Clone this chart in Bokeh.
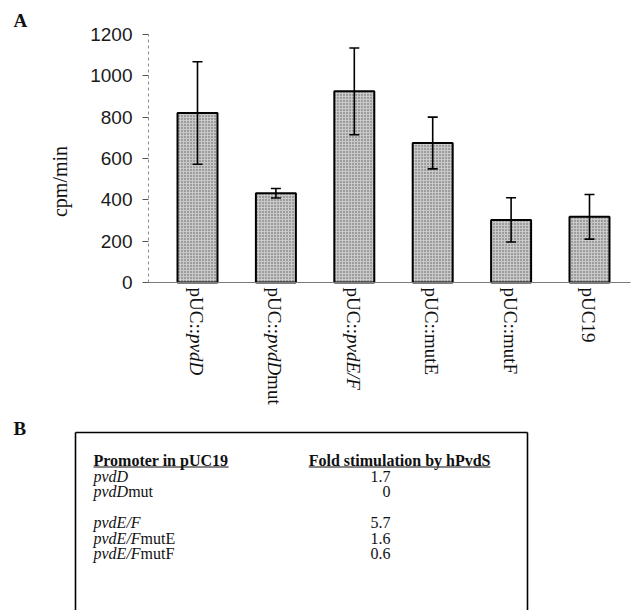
import math
from bokeh.plotting import figure
from bokeh.layouts import column
from bokeh.models import ColumnDataSource, Range1d, FixedTicker, Whisker, TeeHead, LinearAxis
from bokeh.core.properties import value
from bokeh.embed import file_html
from bokeh.resources import INLINE

# ---------------- data (panel A) ----------------
categories = ["pUC::pvdD", "pUC::pvdDmut", "pUC::pvdE/F", "pUC::mutE", "pUC::mutF", "pUC19"]
# label parts: (text, style) so that gene names can be italic
label_parts = [
    [("pUC::", "normal"), ("pvdD", "italic")],
    [("pUC::", "normal"), ("pvdD", "italic"), ("mut", "normal")],
    [("pUC::", "normal"), ("pvdE/F", "italic")],
    [("pUC::mutE", "normal")],
    [("pUC::mutF", "normal")],
    [("pUC19", "normal")],
]
cpm_values = [820, 432, 925, 675, 303, 318]
cpm_errors = [248, 23, 210, 125, 107, 108]
y_ticks = [0, 200, 400, 600, 800, 1000, 1200]
y_label = "cpm/min"

# ---------------- data (panel B) ----------------
table_header = ["Promoter in pUC19", "Fold stimulation by hPvdS"]
promoter_italic = ["pvdD", "pvdD", "pvdE/F", "pvdE/F", "pvdE/F"]
promoter_roman = ["", "mut", "", "mutE", "mutF"]
table_rows = [1, 2, 4, 5, 6]
fold_stimulation = [1.7, 0, 5.7, 1.6, 0.6]

# ---------------- font metrics (Times-compatible, per 1000 em) ----------------
W = {
    "normal": {"p": 500, "U": 722, "C": 667, ":": 278, "m": 778, "u": 500, "t": 278,
               "E": 611, "F": 556, "1": 500, "9": 500, " ": 250},
    "italic": {"p": 500, "v": 444, "d": 500, "D": 722, "E": 611, "/": 278, "F": 611},
    "bold": {"P": 611, "r": 444, "o": 500, "m": 833, "t": 333, "e": 444, " ": 250,
             "i": 278, "n": 556, "p": 556, "U": 722, "C": 722, "1": 500, "9": 500,
             "F": 611, "l": 278, "d": 556, "s": 389, "u": 556, "a": 500, "b": 556,
             "y": 500, "h": 556, "v": 500, "S": 556},
}


def tw(s, style, size):
    return sum(W[style].get(c, 500) for c in s) * size / 1000.0


SERIF = "Liberation Serif"
SANS = "Liberation Sans"
INK = "#111111"

# ---------------- layout of panel A (pixels) ----------------
PW, H1, H2 = 633, 418, 192
X0_PX, XSTEP = 197.0, 78.4          # first bar centre, px per category
Y0_PX, YPX = 282.0, 248.0 / 1200.0  # baseline, px per cpm
AXIS_PX = 148.0


def px2x(px):
    return (px - X0_PX) / XSTEP


def py2y(py):
    return (Y0_PX - py) / YPX


xs = list(range(len(categories)))
p1 = figure(width=PW, height=H1, x_range=Range1d(px2x(0), px2x(PW)),
            y_range=Range1d(py2y(H1), py2y(0)), min_border=0,
            x_axis_location=None, y_axis_location=None,
            output_backend="svg", toolbar_location=None)
p1.outline_line_color = None
p1.grid.visible = False

src = ColumnDataSource(dict(x=xs, top=cpm_values,
                            upper=[v + e for v, e in zip(cpm_values, cpm_errors)],
                            lower=[v - e for v, e in zip(cpm_values, cpm_errors)]))
p1.vbar(x="x", top="top", width=0.51, source=src, fill_color="#c9c9c9",
        hatch_pattern="dot", hatch_color="#5a5a5a", hatch_scale=3, hatch_weight=1,
        line_color="black", line_width=2)

wh = Whisker(base="x", upper="upper", lower="lower", source=src, level="overlay",
             line_color="black", line_width=1.6,
             upper_head=TeeHead(size=10, line_color="black", line_width=1.6),
             lower_head=TeeHead(size=10, line_color="black", line_width=1.6))
p1.add_layout(wh)

yax = LinearAxis(fixed_location=px2x(AXIS_PX), bounds=(y_ticks[0], y_ticks[-1]),
                 ticker=FixedTicker(ticks=y_ticks))
yax.axis_line_color = "#8a8a8a"
yax.axis_line_dash = "3 3"
yax.major_tick_in = 0
yax.major_tick_out = 6
yax.major_tick_line_color = "#555555"
yax.minor_tick_line_color = None
yax.major_label_standoff = 10
yax.major_label_text_font = SANS
yax.major_label_text_font_size = "19px"
yax.major_label_text_color = "#1a1a1a"
p1.add_layout(yax, "left")

xax = LinearAxis(fixed_location=0, bounds=(px2x(AXIS_PX), px2x(630)),
                 ticker=FixedTicker(ticks=[]))
xax.axis_line_color = "#7a7a7a"
xax.axis_line_width = 1.2
xax.major_tick_line_color = None
xax.minor_tick_line_color = None
xax.major_label_text_font_size = "0px"
p1.add_layout(xax, "below")

# category labels, rotated, built from parts
LBL_SIZE = 19
lab = {"normal": dict(x=[], y=[], text=[], off=[]), "italic": dict(x=[], y=[], text=[], off=[])}
for i, parts in zip(xs, label_parts):
    pos = 5.0
    for txt, style in parts:
        lab[style]["x"].append(i)
        lab[style]["y"].append(0)
        lab[style]["text"].append(txt)
        lab[style]["off"].append(pos)
        pos += tw(txt, style, LBL_SIZE)
for style, d in lab.items():
    p1.text(x="x", y="y", text="text", y_offset="off", source=ColumnDataSource(d),
            angle=-math.pi / 2, text_align="left", text_baseline="middle",
            text_font=value(SERIF), text_font_size=f"{LBL_SIZE}px",
            text_font_style=style, text_color=INK, x_offset=-1)

p1.text(x=[px2x(59)], y=[py2y(181)], text=[y_label], angle=math.pi / 2,
        text_align="center", text_baseline="middle", text_font=value(SERIF),
        text_font_size="20px", text_color=INK)
p1.text(x=[px2x(13)], y=[py2y(20)], text=["A"], text_align="left",
        text_baseline="middle", text_font=value(SERIF), text_font_size="19px",
        text_font_style="bold", text_color=INK)

# ---------------- panel B (table) ----------------
ROW0 = 460.0   # page y of header row
ROWH = 15.5
TOP, BOT = float(H1), float(H1 + H2)
p2 = figure(width=PW, height=H2, x_range=Range1d(0, PW),
            y_range=Range1d((BOT - ROW0) / ROWH, (TOP - ROW0) / ROWH),
            min_border=0, x_axis_location=None, y_axis_location=None,
            output_backend="svg", toolbar_location=None)
p2.outline_line_color = None
p2.grid.visible = False


def pr(py):
    return (py - ROW0) / ROWH


FS = 16
COL1 = 93      # left of promoter column (px)
COL2R = 390    # right edge of fold column values
HDR2R = 490    # right edge of header 2
BOX_L, BOX_R = 75, 527
box_top = pr(432)

# box lines (left, top, right), open at the bottom
p2.segment(x0=[BOX_L, BOX_L, BOX_R], y0=[pr(BOT + 20), box_top, box_top],
           x1=[BOX_L, BOX_R, BOX_R], y1=[box_top, box_top, pr(BOT + 20)],
           line_color="black", line_width=1.6)

# header
h1w = tw(table_header[0], "bold", FS)
h2w = tw(table_header[1], "bold", FS)
p2.text(x=[COL1, HDR2R], y=[0, 0], text=table_header, text_align=["left", "right"],
        text_baseline="middle", text_font=value(SERIF), text_font_size=f"{FS}px",
        text_font_style="bold", text_color=INK)
ul_y = 6.5 / ROWH
p2.segment(x0=[COL1, HDR2R - h2w], y0=[ul_y, ul_y], x1=[COL1 + h1w, HDR2R], y1=[ul_y, ul_y],
           line_color=INK, line_width=1.2)

# promoter names and values
tsrc = ColumnDataSource(dict(
    x=[COL1] * len(table_rows), y=table_rows, it=promoter_italic, ro=promoter_roman,
    x2=[COL1 + tw(s, "italic", FS) for s in promoter_italic],
    val=[f"{v:g}" for v in fold_stimulation], xr=[COL2R] * len(table_rows)))
p2.text(x="x", y="y", text="it", source=tsrc, text_baseline="middle",
        text_font=value(SERIF), text_font_size=f"{FS}px", text_font_style="italic",
        text_color=INK)
p2.text(x="x2", y="y", text="ro", source=tsrc, text_baseline="middle",
        text_font=value(SERIF), text_font_size=f"{FS}px", text_color=INK)
p2.text(x="xr", y="y", text="val", source=tsrc, text_baseline="middle", text_align="right",
        text_font=value(SERIF), text_font_size=f"{FS}px", text_color=INK)

p2.text(x=[13], y=[pr(428)], text=["B"], text_align="left", text_baseline="middle",
        text_font=value(SERIF), text_font_size="19px", text_font_style="bold",
        text_color=INK)

layout = column(p1, p2, spacing=0)
open("out.html", "w").write(file_html(layout, INLINE))
